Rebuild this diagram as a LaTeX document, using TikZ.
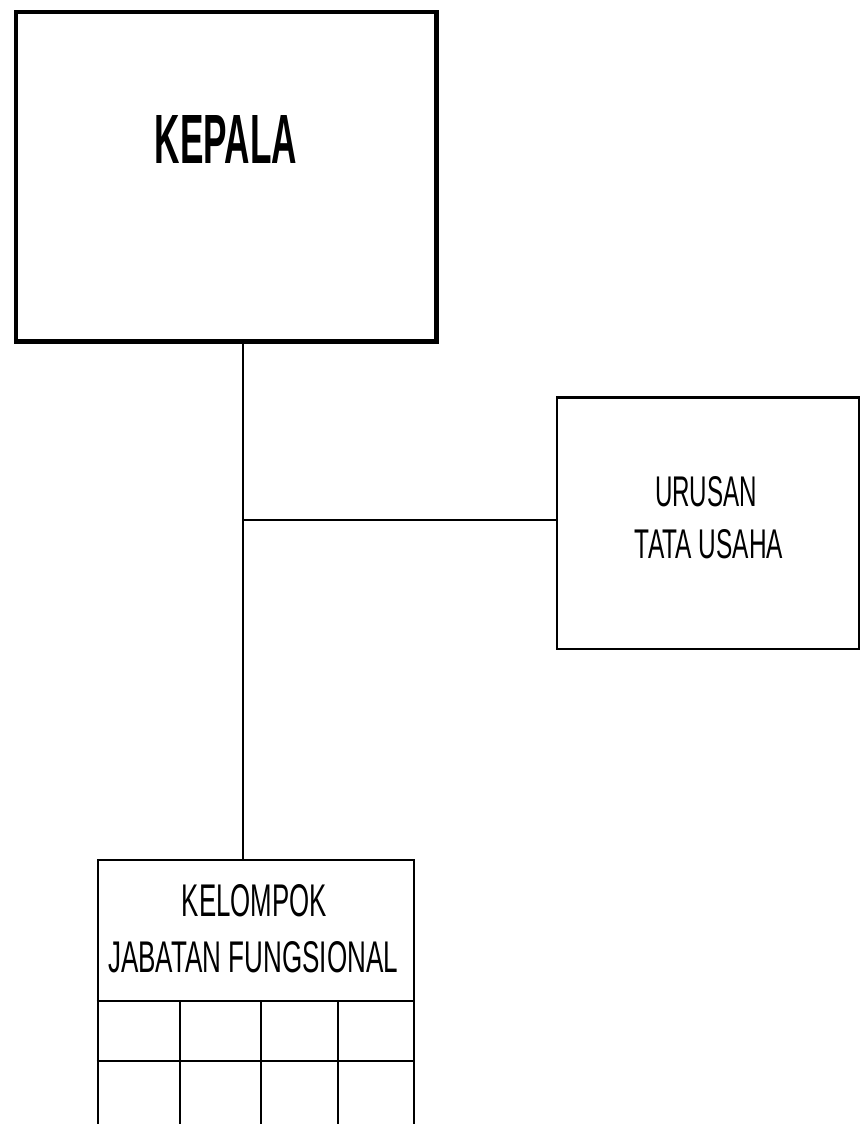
\documentclass[tikz,border=0pt]{standalone}
\usepackage{fontspec}
\setmainfont{Liberation Sans}
\usepackage{graphicx}
\tikzset{
  unitbox/.style={draw=black, fill=white, inner sep=0pt},
  headbox/.style={unitbox, line width=4.2pt},
  subbox/.style={unitbox, line width=2.6pt},
  link/.style={draw=black, line width=1.7pt},
  gridline/.style={draw=black, line width=2pt},
  lbl/.style={inner sep=0pt, anchor=center}
}
\newcommand{\fit}[3]{\resizebox{#1pt}{#2pt}{#3}}
\begin{document}
\begin{tikzpicture}[x=1pt, y=-1pt]
\useasboundingbox (0,0) rectangle (861,1124);
\clip (0,0) rectangle (861,1124);
\fill[white] (0,0) rectangle (861,1124);

% junction coordinates
\coordinate (jx) at (243,520);

% connectors (drawn first, boxes on top)
\node[headbox, minimum width=420.5pt, minimum height=329.5pt] (kepala) at (226.25,176.75) {};
\node[subbox, minimum width=302pt, minimum height=251.5pt] (urusan) at (708,523.25) {};
\node[subbox, minimum width=316pt, minimum height=290pt, anchor=north] (kelompok) at (256,858.5) {};

\draw[link] (kepala.south -| jx) -- (kelompok.north -| jx);
\draw[link] (jx) -- (urusan.west |- jx);

% labels
\node[lbl] (kepalaT) at (226,139) {\fit{142}{48}{\bfseries KEPALA}};
\node[lbl] (urusanT1) at (706,492) {\fit{102}{30}{URUSAN}};
\node[lbl] (urusanT2) at (709,544.5) {\fit{148}{29}{TATA USAHA}};
\node[lbl] (kelT1) at (254.5,901) {\fit{145}{32}{KELOMPOK}};
\node[lbl] (kelT2) at (253,957.5) {\fit{290}{31}{JABATAN FUNGSIONAL}};

% grid under the Kelompok heading
\coordinate (r1) at (0,1001);
\coordinate (r2) at (0,1061);
\draw[gridline] (kelompok.west |- r1) -- (kelompok.east |- r1);
\draw[gridline] (kelompok.west |- r2) -- (kelompok.east |- r2);
\foreach \cx in {180,260.5,338} {
  \draw[gridline] (\cx,1001) -- (\cx,1130);
}
\end{tikzpicture}
\end{document}
